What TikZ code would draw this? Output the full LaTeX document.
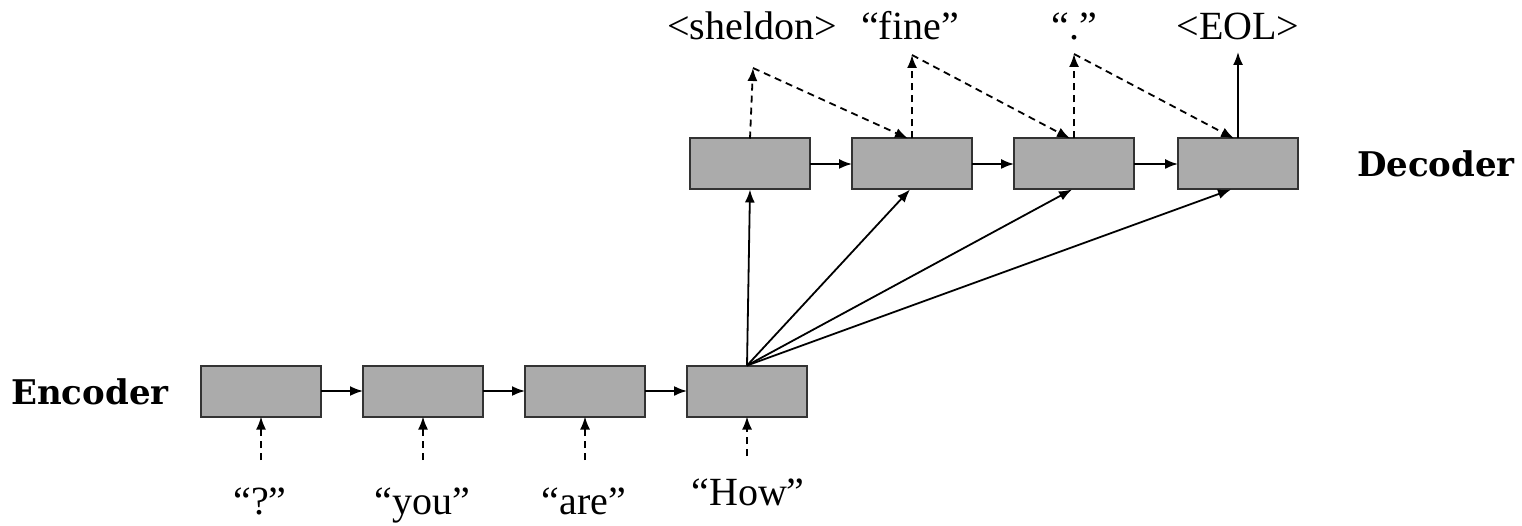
\documentclass[tikz,border=0pt]{standalone}
\usepackage{fontspec}
\setmainfont{Liberation Serif}
\newfontfamily\headfont{DejaVu Serif}
\usetikzlibrary{arrows.meta}
\tikzset{
  cell/.style={draw=black!80, line width=2pt, fill=black!33,
    minimum width=120pt, minimum height=51pt, inner sep=0pt, outer sep=0pt},
  link/.style={line width=1.8pt, -{Latex[length=13pt,width=10pt]}},
  feed/.style={link, dash pattern=on 7pt off 5pt},
  word/.style={anchor=base, inner sep=0pt, font=\fontsize{40}{42}\selectfont},
  title/.style={anchor=base, inner sep=0pt, font=\fontsize{34}{36}\selectfont\headfont\bfseries}
}
\begin{document}
\begin{tikzpicture}[x=1pt, y=-1pt]
\useasboundingbox (0,0) rectangle (1522,526);

% encoder cells
\node[cell] (e1) at (261,391) {};
\node[cell] (e2) at (423,391) {};
\node[cell] (e3) at (585,391) {};
\node[cell] (e4) at (747,391) {};

% decoder cells
\node[cell] (d1) at (750,164) {};
\node[cell] (d2) at (912,164) {};
\node[cell] (d3) at (1074,164) {};
\node[cell] (d4) at (1238,164) {};

% side titles
\node[title] (enc) at (90,404) {Encoder};
\node[title] (dec) at (1436,177) {Decoder};

% input tokens
\node[word] (w1) at (260,514) {“?”};
\node[word] (w2) at (422,514) {“you”};
\node[word] (w3) at (584,514) {“are”};
\node[word] (w4) at (748,505) {“How”};

% output tokens
\node[word] (o1) at (752,40) {<sheldon>};
\node[word] (o2) at (910,40) {“fine”};
\node[word] (o3) at (1074,40) {“.”};
\node[word] (o4) at (1238,40) {<EOL>};

% feeding points of the inputs
\coordinate (i1) at (261,460);
\coordinate (i2) at (423,460);
\coordinate (i3) at (585,460);
\coordinate (i4) at (747,456);

% tips of the decoder outputs
\coordinate (p1) at (753,68);
\coordinate (p2) at (912,55);
\coordinate (p3) at (1074,54);
\coordinate (p4) at (1238,52);

% inputs into the encoder
\foreach \i in {1,...,4} \draw[feed] (i\i) -- (e\i.south);

% recurrent links
\draw[link] (e1.east) -- (e2.west);
\draw[link] (e2.east) -- (e3.west);
\draw[link] (e3.east) -- (e4.west);
\draw[link] (d1.east) -- (d2.west);
\draw[link] (d2.east) -- (d3.west);
\draw[link] (d3.east) -- (d4.west);

% context vector fanned out to every decoder step
\draw[link] (e4.north) -- (d1.south);
\draw[link] (e4.north) -- ([xshift=-2pt]d2.south);
\draw[link] (e4.north) -- ([xshift=-2pt]d3.south);
\draw[link] (e4.north) -- ([xshift=-7pt]d4.south);

% outputs and their feedback into the next step
\draw[feed] (d1.north) -- (p1);
\draw[feed] (p1) -- ([xshift=-4pt]d2.north);
\draw[feed] (d2.north) -- (p2);
\draw[feed] (p2) -- ([xshift=-4pt]d3.north);
\draw[feed] (d3.north) -- (p3);
\draw[feed] (p3) -- ([xshift=-4pt]d4.north);
\draw[link] (d4.north) -- (p4);
\end{tikzpicture}
\end{document}
